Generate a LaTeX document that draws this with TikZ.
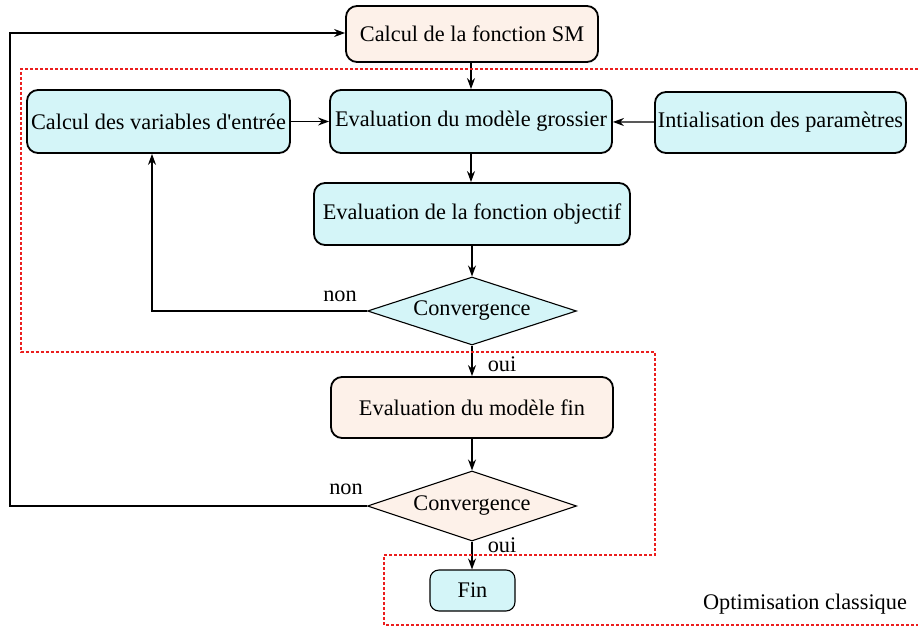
\documentclass[tikz,border=0pt]{standalone}
\usepackage{fontspec}
\setmainfont{Liberation Serif}
\usetikzlibrary{shapes.geometric,arrows.meta}
\definecolor{cyanfill}{RGB}{212,245,248}
\definecolor{peachfill}{RGB}{253,241,233}
\definecolor{reddot}{RGB}{235,30,30}
\begin{document}
\begin{tikzpicture}[x=1pt,y=-1pt,
  font=\fontsize{22.3}{26}\selectfont,
  stepbox/.style={draw=black,line width=1.8pt,rounded corners=11pt,inner sep=0pt,anchor=center},
  cbox/.style={stepbox,fill=cyanfill},
  pbox/.style={stepbox,fill=peachfill},
  decision/.style={diamond,draw=black,line width=1.1pt,inner sep=0pt,anchor=center},
  arr/.style={-{Stealth[length=11pt,width=8pt]},line width=1.3pt},
  lbl/.style={inner sep=0pt,anchor=center}]
\useasboundingbox (0,0) rectangle (918,628);
% nodes
\node[pbox,minimum width=252pt,minimum height=56pt] (sm) at (472,34) {Calcul de la fonction SM};
\node[cbox,minimum width=263pt,minimum height=63pt] (cv) at (158.5,121.5) {Calcul des variables d\textquotesingle entrée};
\node[cbox,minimum width=282pt,minimum height=63pt] (eg) at (471,121.5) {Evaluation du modèle grossier};
\node[cbox,minimum width=251pt,minimum height=61pt] (ini) at (780.5,122.5) {Intialisation des paramètres};
\node[cbox,minimum width=316pt,minimum height=62pt] (eo) at (472,214) {Evaluation de la fonction objectif};
\node[decision,fill=cyanfill,minimum width=209pt,minimum height=68pt] (c1) at (472,311) {};
\node[lbl] at (c1.center) {Convergence};
\node[pbox,minimum width=282pt,minimum height=61pt] (ef) at (472,407.5) {Evaluation du modèle fin};
\node[decision,fill=peachfill,minimum width=209pt,minimum height=70pt] (c2) at (472,506) {};
\node[lbl] at (c2.center) {Convergence};
\node[cbox,line width=1.1pt,rounded corners=9pt,minimum width=85pt,minimum height=41pt] (fin) at (472.5,590.5) {Fin};
% labels
\node[lbl] (n1) at (340,296) {non};
\node[lbl] (o1) at (502,364) {oui};
\node[lbl] (n2) at (346,489) {non};
\node[lbl] (o2) at (502,545) {oui};
\node[lbl] (oc) at (805,604) {Optimisation classique};
% coordinates
\coordinate (l1) at (152,311);
\coordinate (l2a) at (10,506);
\coordinate (l2b) at (10,33);
% connectors
\draw[arr] (sm.south -| eg.north) -- (eg.north);
\draw[arr] (cv) -- (eg);
\draw[arr] (ini) -- (eg);
\draw[arr] (eg.south) -- (eo.north -| eg.south);
\draw[arr] (eo.south -| c1.north) -- (c1.north);
\draw[arr] (c1.south) -- (ef.north -| c1.south);
\draw[arr] (ef.south -| c2.north) -- (c2.north);
\draw[arr] (c2.south) -- (fin.north -| c2.south);
\draw[arr] (c1.west) -- (l1) -- (cv.south -| l1);
\draw[arr] (c2.west) -- (l2a) -- (l2b) -- (sm.west |- l2b);
% red dotted region
\draw[reddot,line width=1.4pt,dash pattern=on 3pt off 2pt]
  (918,69) -- (21,69) -- (21,352) -- (655,352) -- (655,555) -- (384,555) -- (384,625) -- (918,625);
\end{tikzpicture}
\end{document}
